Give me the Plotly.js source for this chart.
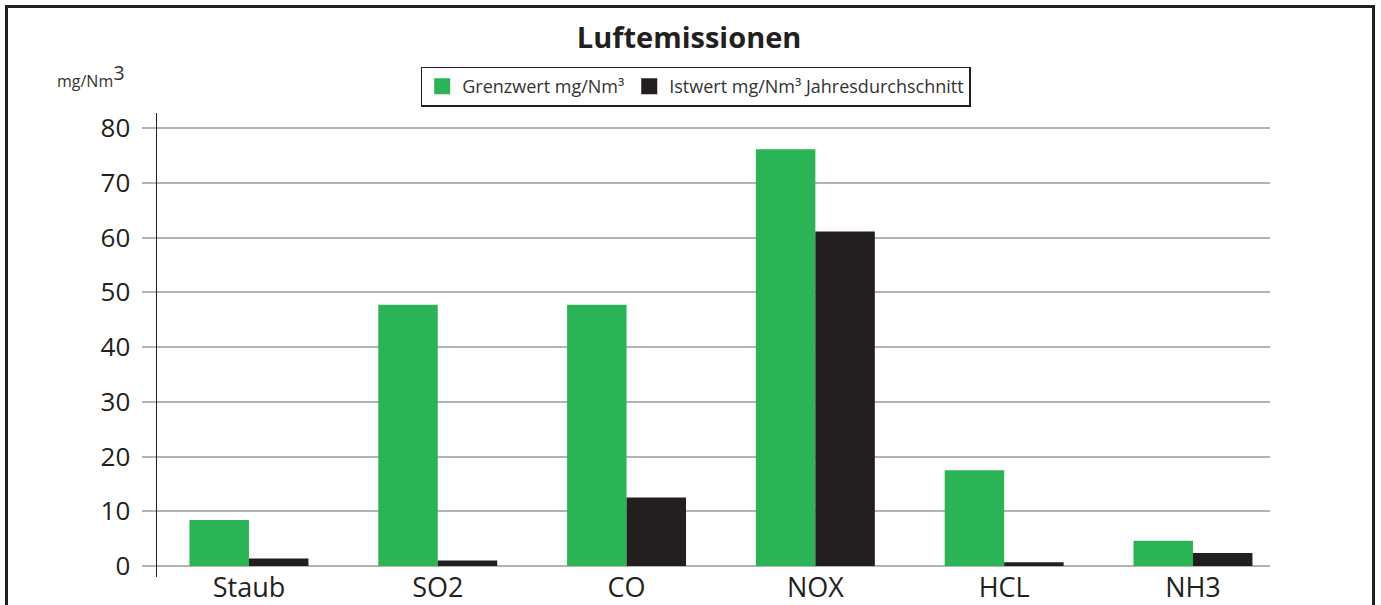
<!DOCTYPE html>
<html>
<head>
<meta charset="utf-8">
<script src="https://cdn.plot.ly/plotly-3.0.1.min.js"></script>
<style>
html,body{margin:0;padding:0;overflow:hidden;background:#fff;}
#frame{position:absolute;left:5px;top:5px;width:1364px;height:640px;border:3px solid #231f20;box-sizing:content-box;pointer-events:none;z-index:2;}
#chart{position:absolute;left:0;top:0;width:1381px;height:605px;}
</style>
</head>
<body>
<div id="chart"></div>
<div id="frame"></div>
<script>
var categories = ["Staub", "SO2", "CO", "NOX", "HCL", "NH3"];
var grenzwert = [8.4, 47.7, 47.7, 76.1, 17.5, 4.6];
var istwert = [1.4, 1.0, 12.5, 61.1, 0.7, 2.4];
var seriesNames = ["Grenzwert mg/Nm³", "Istwert mg/Nm³ Jahresdurchschnitt"];
var yTicks = [0, 10, 20, 30, 40, 50, 60, 70, 80];

var green = "#2bb455";
var black = "#231f20";

var traces = [
  {type: "bar", x: categories, y: grenzwert, name: seriesNames[0], marker: {color: green}, showlegend: false, hoverinfo: "x+y"},
  {type: "bar", x: categories, y: istwert, name: seriesNames[1], marker: {color: black}, showlegend: false, hoverinfo: "x+y"},
  {type: "scatter", mode: "markers", x: [null], y: [null], name: seriesNames[0], marker: {symbol: "square", size: 22, color: green}},
  {type: "scatter", mode: "markers", x: [null], y: [null], name: seriesNames[1], marker: {symbol: "square", size: 22, color: black}}
];

var layout = {
  width: 1381, height: 605,
  margin: {l: 157, r: 111, t: 113, b: 28, pad: 0},
  paper_bgcolor: "#fff", plot_bgcolor: "#fff",
  font: {family: "Open Sans, sans-serif", color: "#231f20"},
  title: {text: "<b>Luftemissionen</b>", font: {size: 29, color: "#231f20", family: "Open Sans, sans-serif"}, x: 0.499, xanchor: "center", y: 0.938, yanchor: "middle", yref: "container"},
  barmode: "group", bargap: 0.37, bargroupgap: 0,
  xaxis: {
    type: "category", range: [-0.487, 5.408],
    showgrid: false, zeroline: false, showline: false,
    ticks: "", tickfont: {size: 27, color: "#231f20"},
    ticklabelstandoff: -8,
    fixedrange: true
  },
  yaxis: {
    range: [-2.0, 82.74], tickvals: yTicks, ticktext: yTicks.map(String),
    showgrid: true, gridcolor: "#b3b3b3", gridwidth: 2,
    zeroline: false, showline: true, linecolor: "#231f20", linewidth: 1.5,
    ticks: "outside", ticklen: 14, tickwidth: 2, tickcolor: "#b3b3b3",
    ticklabelstandoff: 6,
    tickfont: {size: 26, color: "#231f20"},
    fixedrange: true
  },
  legend: {
    orientation: "h", x: 0.484, xanchor: "center", y: 1.1, yanchor: "top",
    bordercolor: "#231f20", borderwidth: 1.5, bgcolor: "#fff",
    font: {size: 18, color: "#333"}, itemwidth: 30, tracegroupgap: 0
  },
  annotations: [
    {text: "mg/Nm<sup><span style='font-size:20px'>3</span></sup>", xref: "paper", yref: "paper", x: -0.027, y: 1.08, xanchor: "right", yanchor: "middle", showarrow: false, font: {size: 16, color: "#333"}}
  ]
};

Plotly.newPlot("chart", traces, layout, {displayModeBar: false, staticPlot: true});
</script>
</body>
</html>
